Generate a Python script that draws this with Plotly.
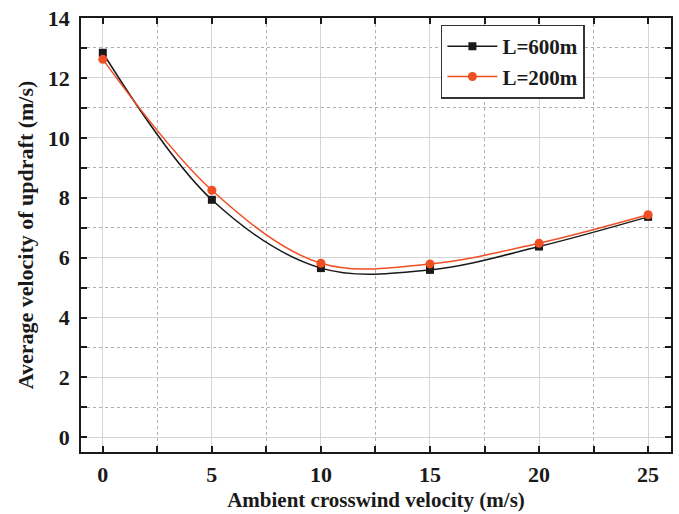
import plotly.graph_objects as go

# Ambient crosswind velocity (m/s)
crosswind = [0, 5, 10, 15, 20, 25]
# Average updraft velocity (m/s) for two lengths
updraft_L600 = [12.84, 7.93, 5.65, 5.59, 6.37, 7.36]
updraft_L200 = [12.62, 8.25, 5.81, 5.79, 6.48, 7.43]

x_ticks = [0, 5, 10, 15, 20, 25]
y_ticks = [0, 2, 4, 6, 8, 10, 12, 14]

FONT = "Liberation Serif"


def bold_labels(values):
    return [f"<b>{v}</b>" for v in values]


fig = go.Figure()
fig.add_trace(go.Scatter(
    x=crosswind, y=updraft_L600, name="<b>L=600m</b>",
    mode="lines+markers", line=dict(color="#1a1a1a", width=1.5, shape="spline", smoothing=1.0),
    marker=dict(symbol="square", size=8, color="#1a1a1a"),
))
fig.add_trace(go.Scatter(
    x=crosswind, y=updraft_L200, name="<b>L=200m</b>",
    mode="lines+markers", line=dict(color="#f04e23", width=1.5, shape="spline", smoothing=1.0),
    marker=dict(symbol="circle", size=9, color="#f04e23"),
))

axis_common = dict(
    showline=True, linecolor="#1a1a1a", linewidth=1.8, mirror="allticks",
    ticks="inside", ticklen=6, tickwidth=1.5, tickcolor="#1a1a1a",
    showgrid=True, gridcolor="#d4d4d4", gridwidth=1.2,
    zeroline=False,
    tickfont=dict(family=FONT, size=22, color="#1a1a1a"),
)

fig.update_xaxes(
    **axis_common,
    range=[-1.0, 26.05], tickvals=x_ticks, ticktext=bold_labels(x_ticks), ticklabelstandoff=2,
    minor=dict(dtick=2.5, tick0=0, ticks="inside", ticklen=6, tickcolor="#1a1a1a",
               showgrid=True, gridcolor="#b0b0b0", griddash="dot", gridwidth=1),
    title=dict(text="<b>Ambient crosswind velocity (m/s)</b>",
               font=dict(family=FONT, size=21, color="#1a1a1a"), standoff=6),
)
fig.update_yaxes(
    **axis_common,
    range=[-0.49, 14.0], tickvals=y_ticks, ticktext=bold_labels(y_ticks), ticklabelstandoff=5,
    minor=dict(dtick=1, tick0=0, ticks="inside", ticklen=6, tickcolor="#1a1a1a",
               showgrid=True, gridcolor="#b0b0b0", griddash="dot", gridwidth=1),
    title=dict(text="<b>Average velocity of updraft (m/s)</b>",
               font=dict(family=FONT, size=22, color="#1a1a1a"), standoff=8),
)

fig.update_layout(
    width=679, height=514,
    margin=dict(l=81, r=6, t=17, b=61),
    paper_bgcolor="white", plot_bgcolor="white",
    showlegend=True,
    legend=dict(
        x=0.61, y=0.985, xanchor="left", yanchor="top",
        bgcolor="white", bordercolor="#333333", borderwidth=1.5,
        font=dict(family=FONT, size=21, color="#1a1a1a"),
        itemwidth=50, tracegroupgap=0,
    ),
)

fig.write_html("out.html")
